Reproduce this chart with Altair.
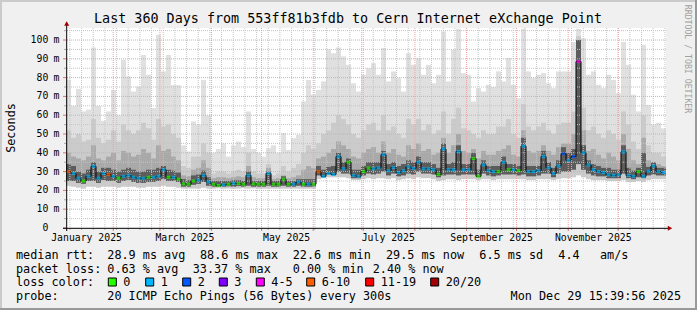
import altair as alt
import pandas as pd

# ---------------- data ----------------
loss_levels = ["0", "1", "2", "3", "4-5", "6-10", "11-19", "20/20"]
loss_colors = ["#26ff00", "#00b8ff", "#0059ff", "#7e00ff", "#ff00ff", "#ff5e00", "#ff0000", "#a10000"]

# median rtt (ms), one value per 3-day step, 120 steps = 360 days
median = [
    30, 29, 26.5, 25, 27.5, 32.8, 26.5, 29, 28.5, 27.5, 26.5, 27.5, 28, 27, 26.5, 26.5, 27, 27, 27.5, 31,
    27, 27, 26, 23.5, 23.3, 25, 25.5, 28, 24.5, 23.3, 22.6, 23, 23.3, 23.8, 23.6, 23.3, 28, 23.5, 23.3, 23.3,
    29, 23.3, 23.3, 26, 23.3, 23.3, 24.5, 23.3, 23.3, 23.3, 30, 27.5, 29, 28.5, 38, 31.5, 35, 28, 27.5, 30,
    31.9, 31.5, 32, 39, 30.5, 32.2, 29.5, 30.5, 32.5, 31.7, 35, 31.5, 31.5, 31, 28.5, 42, 31, 31, 40.7, 31,
    31, 37, 27.5, 33.6, 30.5, 30, 30, 35, 31, 31, 30.5, 43.5, 30, 30, 30.5, 38, 32, 29, 33, 39.5,
    36, 38, 88.6, 40, 33.5, 31, 30, 29.5, 28.3, 28, 28.3, 40.5, 28, 27.5, 30, 27.5, 30.3, 33, 30, 29.5,
]
smoke_top = [
    79, 65, 74, 62, 63, 96, 65, 57, 62, 73.5, 60, 89.5, 80.6, 72.6, 75.3, 92, 81.5, 63.8, 102.8, 83.3,
    92, 76, 76, 44, 40.7, 56.7, 55, 78.8, 60, 40, 42, 45, 38, 44, 46, 43, 62, 42, 40, 38,
    42.5, 44, 40, 50.5, 41.6, 47.8, 49.6, 67.3, 78.8, 70.9, 73.5, 78, 95, 93, 96, 91.3, 86.8, 77, 72.6, 81.5,
    85, 87.7, 81.5, 95.7, 78, 83.3, 79.7, 72.6, 93, 86.8, 90.4, 81.5, 86.8, 77, 81.5, 104.6, 78, 94.8, 106, 82.4,
    81.5, 67.3, 74.4, 72.6, 76.2, 75, 83.3, 78, 90.4, 76.2, 69, 106, 83.3, 79.7, 81.5, 82.4, 77, 74.4, 83.3, 83.3,
    83.3, 99, 106, 101, 81.5, 83.3, 76.2, 74.4, 81.5, 78.8, 71.7, 99, 86.8, 70.9, 62, 97.5, 65.5, 55, 56, 53,
]
smoke_mid = [
    52, 48, 50, 46, 47, 58, 48, 45, 47, 52, 46, 55, 52, 50, 52, 56, 53, 47, 58, 54,
    55, 50, 48, 33, 32, 38, 38, 45, 40, 29, 30, 30, 29, 30, 31, 30, 40, 30, 29, 29,
    34, 28, 29, 33, 30, 32, 34, 40, 44, 42, 45, 50, 52, 56, 60, 58, 55, 50, 48, 52,
    55, 56, 52, 60, 52, 54, 50, 48, 58, 55, 58, 52, 55, 50, 52, 62, 50, 58, 64, 53,
    52, 50, 48, 52, 50, 50, 54, 54, 58, 50, 48, 66, 54, 52, 54, 56, 52, 50, 55, 56,
    56, 62, 102, 64, 52, 54, 50, 48, 52, 50, 47, 62, 55, 46, 42, 60, 44, 40, 40, 38,
]
smoke_inner = [
    40, 38, 37, 36, 38, 44, 37, 36, 38, 40, 36, 41, 40, 38, 39, 42, 40, 37, 44, 41,
    42, 38, 36, 28, 27.5, 31, 32, 36, 32, 26.5, 27, 27, 26.5, 27, 27.5, 27, 33, 27, 26.5, 26.5,
    32, 26, 26.5, 28, 26.5, 27, 28, 31, 33, 32, 37, 38, 40, 42, 46, 44, 42, 38, 37, 40,
    42, 43, 40, 46, 40, 42, 39, 38, 44, 42, 45, 41, 42, 39, 40, 48, 40, 44, 50, 41,
    40, 42, 37, 41, 39, 39, 41, 42, 44, 39, 38, 52, 41, 40, 41, 44, 41, 39, 43, 45,
    45, 50, 100, 52, 41, 42, 39, 37, 40, 38, 36, 50, 42, 36, 34, 48, 36, 34, 34, 33,
]
smoke_core = [
    34, 33, 30, 29, 31, 35, 30, 32, 32, 31, 30, 31, 32, 31, 30, 30, 31, 31, 32, 33,
    31, 30.5, 29.5, 26, 25.5, 28, 28.5, 30.5, 27, 25, 25, 25, 25, 25.5, 25.5, 25, 30, 25, 25, 25,
    30, 25, 25, 27.5, 25, 25, 26, 26, 26, 26, 33, 31, 32.5, 33, 40, 35, 37, 31, 31, 33,
    35, 35, 35, 41, 34, 35, 33, 34, 36, 35, 38, 35, 35, 34, 32, 45, 34, 35, 44, 34,
    34, 40, 31, 36, 33, 33, 33, 38, 34, 34, 33, 48, 33, 33, 33, 41, 35, 32, 36, 43,
    40, 42, 100, 44, 36, 34, 33, 32, 32, 31, 31, 44, 32, 30.5, 32, 40, 32.5, 35, 32, 32,
]
smoke_lo = [
    22.5, 22, 21.5, 21, 22, 22, 21.5, 22, 22, 22, 21.5, 22, 22, 22, 21.5, 21.5, 22, 22, 22, 22.5,
    22, 22, 21.5, 21, 21, 21, 21, 21.5, 21, 21, 21.2, 21, 21.1, 20.9, 21, 21.2, 21, 21.1, 20.9, 21,
    21, 21, 21, 21, 21, 21, 21, 21, 21, 21, 26, 26.5, 27, 27, 27, 27, 26.5, 25.5, 25.5, 26,
    26.5, 26, 26.5, 26.5, 26, 26.5, 25.5, 26, 26.5, 26, 27, 26.5, 26.5, 26, 25, 25.5, 26, 26, 25.5, 26,
    26, 26, 25.5, 26, 26, 25.5, 26, 26, 26, 26, 26, 26, 25.5, 25.5, 26, 26, 26, 25.5, 26, 26.5,
    26.5, 27, 28, 27, 26, 25.5, 25.5, 25.5, 25, 25, 25, 25.5, 24.5, 24.5, 25, 24.5, 25.5, 26, 26, 26,
]
smoke_lo_inner = [
    25, 25, 24, 23.5, 25, 25, 24, 25.5, 25, 25, 24, 25, 25.5, 24.5, 24, 24, 24.5, 24.5, 25, 26,
    25, 25, 24.5, 22, 22, 23, 23.5, 24.5, 22.5, 22, 21.8, 22, 22.2, 22, 22.3, 22, 22.5, 22, 22, 22,
    22.5, 22, 22, 22.5, 22, 22, 22.5, 22, 22, 22, 28, 27, 28.5, 28, 30, 29, 29, 26.5, 26.5, 28,
    29, 28.5, 29, 30, 28, 29, 27.5, 28, 29, 28.5, 30, 29, 29, 28.5, 27, 28, 28.5, 28.5, 28, 28.5,
    28.5, 28.5, 27, 29, 28, 27.5, 28, 28.5, 28.5, 28.5, 28, 28.5, 27.5, 27.5, 28, 29, 29, 27, 29, 30,
    30, 31, 34, 31, 29, 28, 27.5, 27.5, 26.5, 26.5, 26.5, 29, 26.5, 26, 27, 26.5, 28, 28.5, 28, 28,
]
loss = [
    "6-10", "1", "1", "0", "1", "1", "1", "1", "6-10", "1", "0", "1", "1", "1", "1", "1", "0", "1", "1", "1",
    "0", "1", "0", "0", "0", "0", "1", "1", "1", "0", "0", "1", "0", "1", "0", "0", "1", "0", "0", "0",
    "1", "0", "0", "0", "0", "1", "1", "0", "1", "0", "6-10", "1", "1", "1", "1", "1", "0", "1", "1", "0",
    "0", "1", "1", "1", "1", "1", "1", "1", "1", "1", "1", "1", "1", "1", "0", "1", "1", "1", "1", "1",
    "1", "0", "0", "1", "1", "1", "0", "1", "0", "1", "0", "1", "1", "1", "1", "1", "1", "1", "1", "2",
    "1", "2", "4-5", "1", "1", "1", "1", "1", "1", "1", "1", "1", "1", "1", "0", "1", "1", "1", "1", "1",
]

month_starts = ["2025-02-01", "2025-03-01", "2025-04-01", "2025-05-01", "2025-06-01", "2025-07-01",
                "2025-08-01", "2025-09-01", "2025-10-01", "2025-11-01", "2025-12-01"]
month_labels = ["January 2025", "March 2025", "May 2025", "July 2025", "September 2025", "November 2025"]
month_label_dates = ["2025-01-16", "2025-03-16", "2025-05-16", "2025-07-16", "2025-09-16", "2025-11-16"]
y_ticks = [0, 10, 20, 30, 40, 50, 60, 70, 80, 90, 100]
y_minor = [5, 15, 25, 35, 45, 55, 65, 75, 85, 95, 105]

title_text = "Last 360 Days from 553ff81b3fdb to Cern Internet eXchange Point"

# ---------------- tables ----------------
start = pd.Timestamp("2025-01-03 15:40")
step = pd.Timedelta(days=3)
n = len(median)
df = pd.DataFrame({
    "start": [start + step * i for i in range(n)],
    "end": [start + step * (i + 1) for i in range(n)],
    "mid": [start + step * i + step / 2 for i in range(n)],
    "med": median, "top": smoke_top, "smid": smoke_mid, "inner": smoke_inner,
    "core": smoke_core, "lo": smoke_lo, "lo2": smoke_lo_inner, "loss": loss,
})
months = pd.DataFrame({"d": pd.to_datetime(month_starts)})
weeks = pd.DataFrame({"d": pd.date_range("2025-01-06", "2025-12-29", freq="7D")})
xlab = pd.DataFrame({"d": pd.to_datetime(month_label_dates), "t": month_labels})
yt = pd.DataFrame({"v": y_ticks})
ytm = pd.DataFrame({"v": y_minor})
one = pd.DataFrame({"a": [0]})

XS = alt.Scale(domain=[alt.DateTime(year=2025, month=1, date=3, hours=15, minutes=40),
                       alt.DateTime(year=2025, month=12, date=29, hours=15, minutes=40)], nice=False)
YS = alt.Scale(domain=[0, 106.4], nice=False, zero=False)


def X(f):
    return alt.X(f, type="temporal", scale=XS, axis=None)


def Y(f):
    return alt.Y(f, type="quantitative", scale=YS, axis=None)


MONO = "DejaVu Sans Mono"
L, T = 66, 28  # plot origin in page pixels


def band(lo_f, hi_f, col):
    return alt.Chart(df).mark_rect(color=col).encode(x=X("start"), x2="end", y=Y(lo_f), y2=hi_f)


def txt(s, px, py, size=11.8, align="left", angle=0, color="black"):
    kw = dict(text=s, font=MONO, fontSize=size, align=align, baseline="middle", color=color)
    if angle:
        kw["angle"] = angle
    return alt.Chart(one).mark_text(**kw).encode(x=alt.value(px - L), y=alt.value(py - T))


def hrule(x1, x2, py, col, w=1):
    return alt.Chart(one).mark_rule(color=col, strokeWidth=w).encode(
        x=alt.value(x1 - L), x2=alt.value(x2 - L), y=alt.value(py - T))


def vrule(px, y1, y2, col, w=1):
    return alt.Chart(one).mark_rule(color=col, strokeWidth=w).encode(
        x=alt.value(px - L), y=alt.value(y1 - T), y2=alt.value(y2 - T))


layers = [
    band("lo", "top", "#e0e0e0"),
    band("lo", "smid", "#cbcbcb"),
    band("lo2", "inner", "#a9a9a9"),
    band("lo2", "core", "#5c5c5c"),
    # grid
    alt.Chart(ytm).mark_rule(color="#c4c4c4", strokeDash=[1, 1]).encode(y=Y("v")),
    alt.Chart(weeks).mark_rule(color="#c4c4c4", strokeDash=[1, 1]).encode(x=X("d")),
    alt.Chart(yt[yt.v > 0]).mark_rule(color="#f0a0a0", strokeDash=[1, 1]).encode(y=Y("v")),
    alt.Chart(months).mark_rule(color="#f0a0a0", strokeDash=[1, 1]).encode(x=X("d")),
    # small ticks outside plot
    alt.Chart(months).mark_rule(color="#e07070").encode(x=X("d"), y=alt.value(200), y2=alt.value(203)),
    alt.Chart(weeks).mark_rule(color="#aaaaaa").encode(x=X("d"), y=alt.value(200), y2=alt.value(202)),
    alt.Chart(yt).mark_rule(color="#e07070").encode(y=Y("v"), x=alt.value(-3), x2=alt.value(0)),
    alt.Chart(ytm).mark_rule(color="#aaaaaa").encode(y=Y("v"), x=alt.value(-2), x2=alt.value(0)),
    # median line
    alt.Chart(df).mark_line(interpolate="step", color="black", strokeWidth=1).encode(x=X("mid"), y=Y("med")),
    alt.Chart(df).mark_tick(orient="horizontal", size=4, thickness=3).encode(
        x=X("mid"), y=Y("med"),
        color=alt.Color("loss:N", scale=alt.Scale(domain=loss_levels, range=loss_colors), legend=None)),
    # axes lines and arrows
    hrule(63, 668, 228.3, "black"),
    vrule(66.7, 25, 231, "black"),
    alt.Chart(one).mark_point(shape="triangle-up", filled=True, color="#a00000", size=26, opacity=1).encode(
        x=alt.value(66.7 - L), y=alt.value(23.5 - T)),
    alt.Chart(one).mark_point(shape="triangle-right", filled=True, color="#a00000", size=26, opacity=1).encode(
        x=alt.value(670 - L), y=alt.value(228.3 - T)),
    # y labels
    alt.Chart(yt).mark_text(font=MONO, fontSize=9.8, align="right", baseline="middle", color="black").encode(
        y=Y("v"), x=alt.value(48.3 - L), text="v:Q"),
    alt.Chart(yt[yt.v > 0]).mark_text(font=MONO, fontSize=9.8, align="left", baseline="middle", color="black",
                                      text="m").encode(y=Y("v"), x=alt.value(53.6 - L)),
    # x labels
    alt.Chart(xlab).mark_text(font=MONO, fontSize=9.8, align="center", baseline="middle", color="black").encode(
        x=X("d"), y=alt.value(237.7 - T), text="t:N"),
    # title and side texts
    txt(title_text, 348, 19, size=13.4, align="center"),
    txt("Seconds", 10.5, 128, size=11.8, align="center", angle=270),
    txt("RRDTOOL / TOBI OETIKER", 687, 59, size=8.2, align="center", angle=90, color="#a0a0a0"),
]

# legend rows
rows = [
    (254.5, [("median rtt:", 16), ("28.9 ms avg", 107.3), ("88.6 ms max", 200), ("22.6 ms min", 292.7),
             ("29.5 ms now", 386), ("6.5 ms sd", 479.3), ("4.4", 558.3), ("am/s", 600)]),
    (268.5, [("packet loss:", 16), ("0.63 % avg", 107.3), ("33.37 % max", 192.7), ("0.00 % min", 292.7),
             ("2.40 % now", 372.7)]),
    (282.3, [("loss color:", 16)]),
    (296, [("probe:", 16), ("20 ICMP Echo Pings (56 Bytes) every 300s", 107.3)]),
]
for py, items in rows:
    for s, px in items:
        layers.append(txt(s, px, py))
layers.append(txt("Mon Dec 29 15:39:56 2025", 681, 296, align="right"))

box_x = [108.3, 145.7, 182.7, 219.3, 256.3, 306.7, 365.7, 430.7]
for lvl, col, bx in zip(loss_levels, loss_colors, box_x):
    layers.append(alt.Chart(one).mark_rect(color=col, stroke="black", strokeWidth=1).encode(
        x=alt.value(bx - L), x2=alt.value(bx + 8 - L), y=alt.value(278 - T), y2=alt.value(286 - T)))
    layers.append(txt(lvl, bx + 15, 282.3))

# frame
layers += [
    hrule(0, 697, 1, "#cbcbcb", 2),
    vrule(1, 0, 310, "#cbcbcb", 2),
    hrule(0, 697, 309, "#999999", 2),
    vrule(696, 0, 310, "#999999", 2),
]

chart = alt.layer(*layers).properties(
    width=600, height=200,
    padding={"left": L, "top": T, "right": 697 - L - 600, "bottom": 310 - T - 200},
    autosize=alt.AutoSizeParams(type="none"),
    background="#f0f0f0",
).configure_view(fill="white", stroke=None)

chart.save("out.html", embed_options={"renderer": "svg", "actions": False})
